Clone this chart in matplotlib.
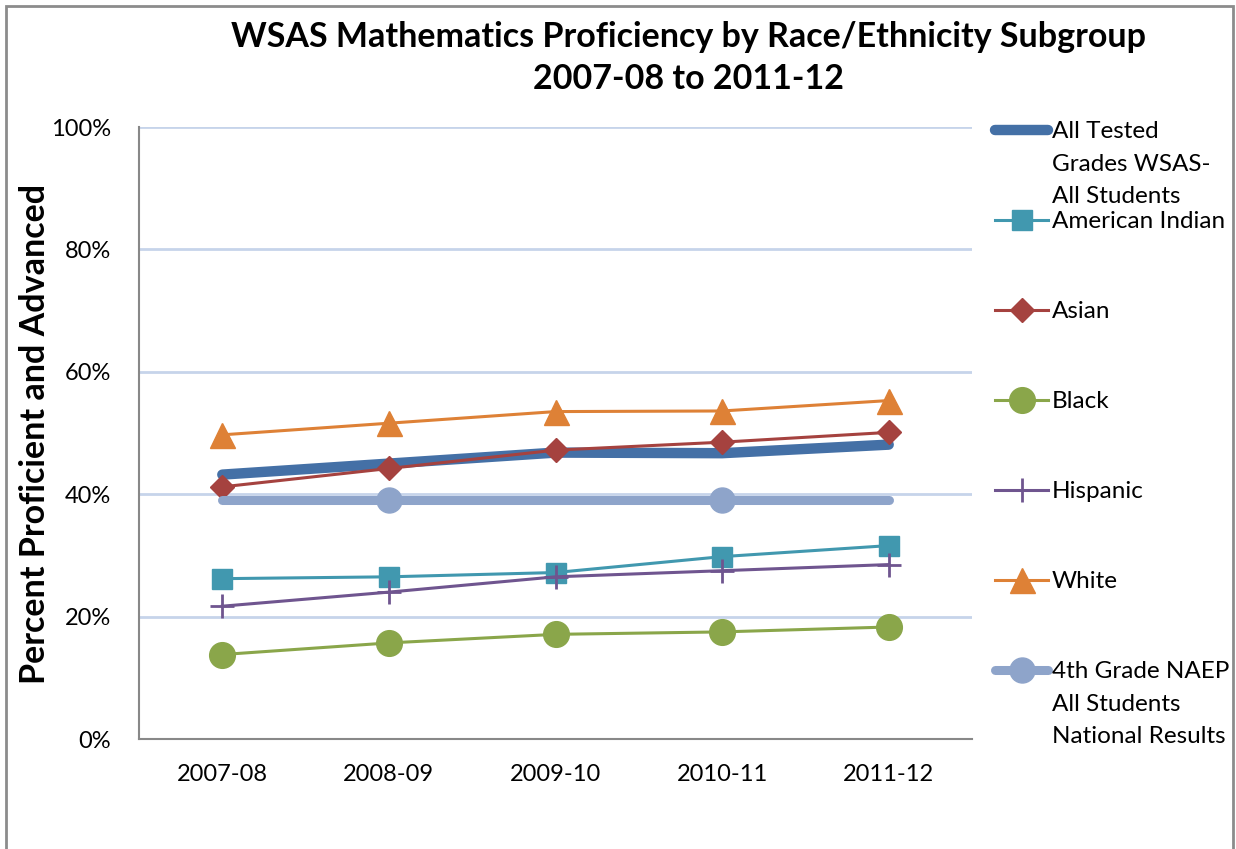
import numpy as np
import matplotlib
matplotlib.use("Agg")
import matplotlib.pyplot as plt
from matplotlib.ticker import PercentFormatter
from matplotlib.patches import Rectangle

plt.rcParams['font.family'] = ['Lato', 'DejaVu Sans']

years = ['2007-08', '2008-09', '2009-10', '2010-11', '2011-12']

all_students = [43.2, 45.0, 46.8, 46.7, 48.1]
american_indian = [26.2, 26.5, 27.2, 29.8, 31.6]
asian = [41.2, 44.2, 47.2, 48.5, 50.1]
black = [13.8, 15.7, 17.1, 17.5, 18.3]
hispanic = [21.7, 24.0, 26.5, 27.5, 28.5]
white = [49.7, 51.6, 53.5, 53.6, 55.3]
naep = [39.1, 39.1, 39.1, 39.1, 39.1]

labels = ['All Tested\nGrades WSAS-\nAll Students', 'American Indian', 'Asian',
          'Black', 'Hispanic', 'White',
          '4th Grade NAEP\nAll Students\nNational Results']

series = [
    (all_students, dict(color='#4470A6', lw=7.5, solid_capstyle='round')),
    (american_indian, dict(color='#4198AF', lw=2.2, marker='s', ms=14)),
    (asian, dict(color='#A5423F', lw=2.2, marker='D', ms=12)),
    (black, dict(color='#8AA64A', lw=2.2, marker='o', ms=18.5)),
    (hispanic, dict(color='#6F558F', lw=2.2, marker='+', ms=17, mew=2)),
    (white, dict(color='#DE8136', lw=2.2, marker='^', ms=18)),
    (naep, dict(color='#8EA4CA', lw=6.5, marker='o', ms=18, markevery=[1, 3],
                solid_capstyle='round')),
]

W, H = 1236, 849
fig = plt.figure(figsize=(W / 100, H / 100), dpi=100)
ax = fig.add_axes([139 / W, 1 - 739 / H, (972 - 139) / W, (739 - 127) / H])

x = np.arange(len(years))
for vals, st in series:
    ax.plot(x, vals, **st)

ax.set_xlim(-0.5, len(years) - 0.5)
ax.set_ylim(0, 100)
ax.set_yticks(np.arange(0, 101, 20))
ax.yaxis.set_major_formatter(PercentFormatter(decimals=0))
ax.set_xticks(x)
ax.set_xticklabels(years)
ax.tick_params(axis='both', length=0, labelsize=17)
ax.tick_params(axis='y', pad=20)
ax.tick_params(axis='x', pad=18)
ax.grid(axis='y', color='#C6D4EA', lw=2)
ax.set_axisbelow(True)
for s in ['top', 'right']:
    ax.spines[s].set_visible(False)
for s in ['left', 'bottom']:
    ax.spines[s].set_color('#888888')
    ax.spines[s].set_linewidth(1.5)

fig.text(688 / W, 1 - 58 / H,
         'WSAS Mathematics Proficiency by Race/Ethnicity Subgroup\n2007-08 to 2011-12',
         ha='center', va='center', fontsize=24.5, fontweight='bold', linespacing=1.35)
fig.text(35 / W, 1 - 434 / H, 'Percent Proficient and Advanced', rotation=90,
         ha='center', va='center', fontsize=24.5, fontweight='bold')

# legend drawn by hand so multi-line labels keep the handle on the first line
lax = fig.add_axes([0, 0, 1, 1])
lax.set_xlim(0, W)
lax.set_ylim(H, 0)
lax.axis('off')
for i, (lab, (vals, st)) in enumerate(zip(labels, series)):
    yy = 130 + 90 * i
    st2 = dict(st)
    st2.pop('markevery', None)
    lax.plot([995, 1048], [yy, yy], markevery=[], **st2)
    if 'marker' in st2:
        lax.plot([1021.5], [yy], **st2)
    lax.text(1052, yy - 9, lab, ha='left', va='top', fontsize=17.5, linespacing=1.68)

fig.patches.append(Rectangle((6 / W, -0.05), 1227 / W, 1.05 - 6 / H,
                             transform=fig.transFigure, fill=False,
                             edgecolor='#8C8C8C', lw=2))

fig.savefig('out.png', dpi=100)
